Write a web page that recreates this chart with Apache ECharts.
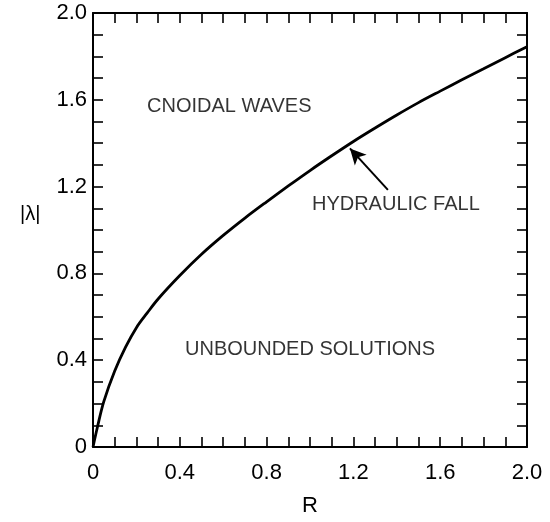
<!DOCTYPE html>
<html>
<head>
<meta charset="utf-8">
<script src="https://cdn.jsdelivr.net/npm/echarts@6/dist/echarts.min.js"></script>
<style>html,body{margin:0;padding:0;background:#fff;}#c{width:550px;height:522px;}</style>
</head>
<body>
<div id="c"></div>
<script>
const rValues = [0, 0.02, 0.05, 0.1, 0.15, 0.2, 0.25, 0.3, 0.4, 0.5, 0.6, 0.7, 0.8, 0.9, 1.0, 1.1, 1.2, 1.3, 1.4, 1.5, 1.6, 1.7, 1.8, 1.9, 2.0];
const lambdaValues = [0, 0.09, 0.21, 0.35, 0.46, 0.55, 0.618, 0.682, 0.79, 0.888, 0.975, 1.055, 1.13, 1.203, 1.274, 1.342, 1.408, 1.47, 1.53, 1.587, 1.64, 1.692, 1.743, 1.794, 1.845];
const xTicks = [0, 0.4, 0.8, 1.2, 1.6, 2.0];
const yTicks = [0, 0.4, 0.8, 1.2, 1.6, 2.0];
const annotations = [
  {text: 'CNOIDAL WAVES', r: 0.249, l: 1.567},
  {text: 'HYDRAULIC FALL', r: 1.009, l: 1.116},
  {text: 'UNBOUNDED SOLUTIONS', r: 0.424, l: 0.451}
];
const arrowTail = [1.359, 1.185];
const arrowTip = [1.184, 1.376];
const yAxisTitle = '|λ|';
const xAxisTitle = 'R';

const FONT = 'Liberation Sans, Arial, sans-serif';
const fmt = v => (Math.abs(v) < 1e-9 ? '0' : v.toFixed(1));
const tickStyle = {show: true, inside: true, length: 10, lineStyle: {color: '#000', width: 1.6}};
const minorStyle = {show: true, splitNumber: 4, length: 10, lineStyle: {color: '#000', width: 1.6}};
const lineStyle = {show: true, onZero: false, lineStyle: {color: '#000', width: 2}};

function makeX(pos, labels) {
  return {
    type: 'value', position: pos, min: 0, max: 2, interval: 0.4,
    axisLine: lineStyle, axisTick: tickStyle, minorTick: minorStyle,
    splitLine: {show: false}, minorSplitLine: {show: false},
    axisLabel: {show: labels, formatter: fmt, margin: 15, color: '#000', fontSize: 22, fontFamily: FONT},
    name: labels ? xAxisTitle : '', nameLocation: 'middle', nameGap: 48,
    nameTextStyle: {color: '#000', fontSize: 22, fontFamily: FONT}
  };
}
function makeY(pos, labels) {
  return {
    type: 'value', position: pos, min: 0, max: 2, interval: 0.4,
    axisLine: lineStyle, axisTick: tickStyle, minorTick: minorStyle,
    splitLine: {show: false}, minorSplitLine: {show: false},
    axisLabel: {show: labels, formatter: fmt, margin: 6, color: '#000', fontSize: 22, fontFamily: FONT}
  };
}

const chart = echarts.init(document.getElementById('c'), null, {renderer: 'canvas'});
chart.setOption({
  backgroundColor: '#fff',
  animation: false,
  grid: {left: 93, right: 23, top: 13, bottom: 70},
  xAxis: [makeX('bottom', true), makeX('top', false)],
  yAxis: [makeY('left', true), makeY('right', false)],
  graphic: [{
    type: 'text', left: 20, top: 204,
    style: {text: yAxisTitle, fill: '#000', fontSize: 20, fontFamily: FONT}
  }],
  series: [
    {
      type: 'line', xAxisIndex: 0, yAxisIndex: 0,
      data: rValues.map((r, i) => [r, lambdaValues[i]]),
      smooth: 0.35, showSymbol: false, symbol: 'none',
      lineStyle: {color: '#000', width: 2.8},
      markLine: {
        silent: true, animation: false,
        symbol: ['none', 'arrow'], symbolSize: [12, 16],
        lineStyle: {color: '#000', width: 2, type: 'solid'},
        label: {show: false},
        data: [[{coord: arrowTail}, {coord: arrowTip}]]
      }
    },
    {
      type: 'scatter', xAxisIndex: 0, yAxisIndex: 0,
      symbolSize: 0,
      data: annotations.map(a => ({value: [a.r, a.l], name: a.text})),
      label: {
        show: true, position: 'right', distance: 0,
        formatter: p => p.name, color: '#000', fontSize: 20, fontFamily: FONT
      }
    }
  ]
});
</script>
</body>
</html>
